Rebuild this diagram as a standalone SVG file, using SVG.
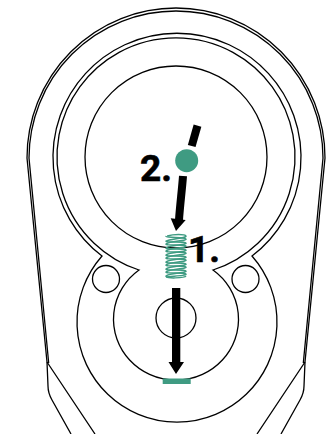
<svg xmlns="http://www.w3.org/2000/svg" width="330" height="434" viewBox="0 0 330 434">
<style>
.l{fill:none;stroke:#000;stroke-width:1.3}
.g{fill:#3f9b82}
.s{fill:none;stroke:#3f9b82;stroke-width:1.5}
.t{font-family:"Roboto","Liberation Sans",sans-serif;font-weight:700;font-size:37px;fill:#000;stroke:#000;stroke-width:.6}
</style>
<g id="body">
<path class="l" d="M71 434L52 400Q48 393 48 386L47 362L27 158A149 150 0 0 1 325 158L305 362L304 386Q304 393 300 400L281 434"/>
<path class="l" d="M95 434L47 362M48.700 363L29 158A147 147 0 0 1 323 158L303.300 363M305 362L257 434"/>
</g>
<g id="ring">
<path class="l" d="M102 256A100 100 0 1 0 252 256A124 124 0 1 0 102 256Z"/>
<path class="l" d="M139 270A62.500 61 0 1 0 213 270A119 119 0 1 0 139 270Z"/>
<circle class="l" cx="176" cy="157" r="91"/>
<circle class="l" cx="106" cy="279" r="13.500"/>
<circle class="l" cx="245.500" cy="279" r="13.500"/>
<circle class="l" cx="176" cy="318" r="20"/>
</g>
<g id="spring" transform="translate(176 0) scale(1.1 1) translate(-176 0)">
<path class="s" d="M168 236C174 234 184 234 185 236C186 238 170 239 167 241C166 243 184 241 185 243C186 245 170 245 167 248C166 250 184 248 185 250C186 252 170 252 167 255C166 257 184 255 185 257C186 259 170 259 167 262C166 264 184 262 185 264C186 266 170 266 167 269C166 271 184 269 185 271C186 273 170 273 167 276C166 279 184 278 185 276"/>
<path class="s" d="M167 236C166 238 184 237 185 239C186 241 170 241 167 244C166 246 184 244 185 246C186 248 170 248 167 251C166 253 184 251 185 253C186 255 170 255 167 258C166 260 184 258 185 260C186 262 170 262 167 265C166 267 184 265 185 267C186 269 170 269 167 272C166 274 184 272 185 274C186 276 170 276 167 277"/>
</g>
<g id="spring-stop"><rect class="g" x="162.700" y="378.500" width="28" height="5.500"/></g>
<g id="pivot"><circle class="g" cx="186.700" cy="160.700" r="11.500"/></g>
<g id="connectors">
<path d="M197.500 125.700L191.700 146" fill="none" stroke="#000" stroke-width="8"/>
<path d="M183 176C182 190 180 205 179 220" fill="none" stroke="#000" stroke-width="8"/>
<path d="M170.700 218.300L185.700 220L176 231Z"/>
<path d="M172 288H180.300V362H184L176 374L168.500 362H172Z"/>
</g>
<g id="labels">
<text class="t" x="140" y="181">2.</text>
<text class="t" x="188" y="262">1.</text>
</g>
</svg>
